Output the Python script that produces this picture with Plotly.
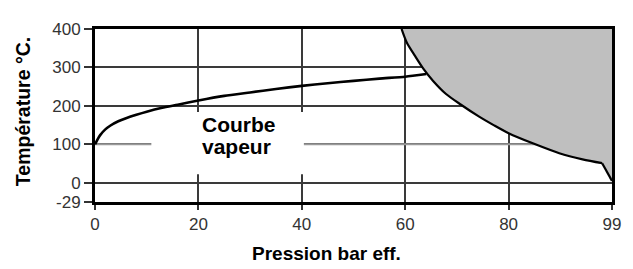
import plotly.graph_objects as go

# Steam (saturation) curve: pressure (bar g) -> temperature (°C)
steam_p = [0, 0.5, 1, 2, 3, 4.5, 6, 8, 10, 13, 16, 20, 25, 30, 35, 40, 45, 50, 55, 60, 64.1]
steam_t = [100, 113, 124, 139, 149, 160, 168, 177, 185, 195, 203, 214, 226, 235, 244, 252, 259, 265, 271, 276, 283]

# Limit curve of the grey (forbidden) zone
limit_p = [59.3, 60.3, 61.9, 63.5, 65.4, 67.9, 70.8, 74.3, 77.1, 80, 84.8, 89.8, 94.3, 98.1]
limit_t = [400, 365, 330, 297, 265, 231, 203, 172, 150, 129, 102, 77, 61, 51]
end_p = [98.1, 100]
end_t = [51, 5]

x_tickvals = [0, 20, 40, 60, 80, 100]
x_ticktext = ["0", "20", "40", "60", "80", "99"]
y_tickvals = [-50, 0, 100, 200, 300, 400]
y_ticktext = ["-29", "0", "100", "200", "300", "400"]

FONT = "Liberation Sans, Arial, sans-serif"

fig = go.Figure()

# grey zone fill
fig.add_trace(go.Scatter(
    x=limit_p + end_p[1:] + [100, limit_p[0]],
    y=limit_t + end_t[1:] + [400, 400],
    fill="toself", fillcolor="#bfbfbf", mode="none",
    hoverinfo="skip", showlegend=False,
))
# limit curve
fig.add_trace(go.Scatter(
    x=limit_p, y=limit_t, mode="lines",
    line=dict(color="black", width=2.2, shape="spline", smoothing=0.8), showlegend=False,
))
fig.add_trace(go.Scatter(
    x=end_p, y=end_t, mode="lines",
    line=dict(color="black", width=2.2), showlegend=False,
))
# steam curve
fig.add_trace(go.Scatter(
    x=steam_p, y=steam_t, mode="lines",
    line=dict(color="black", width=2.6, shape="spline", smoothing=0.6), showlegend=False,
))

# lighter 100 °C grid line and white box behind the label (between grid and traces)
fig.add_shape(type="line", xref="x", yref="y", x0=0, x1=100, y0=100, y1=100,
              line=dict(color="#999999", width=2), layer="between")
fig.add_shape(type="rect", xref="x", yref="y", x0=10.9, x1=40.4, y0=22, y1=184,
              fillcolor="white", line=dict(width=0), layer="between")

fig.add_annotation(x=20.3, y=151, xref="x", yref="y", text="<b>Courbe</b>",
                   showarrow=False, xanchor="left", yanchor="middle",
                   font=dict(family=FONT, size=21, color="black"))
fig.add_annotation(x=20.3, y=94, xref="x", yref="y", text="<b>vapeur</b>",
                   showarrow=False, xanchor="left", yanchor="middle",
                   font=dict(family=FONT, size=21, color="black"))

fig.add_annotation(x=-0.139, y=0.52, xref="paper", yref="paper",
                   text="<b>Température °C.</b>", textangle=-90, showarrow=False,
                   xanchor="center", yanchor="middle",
                   font=dict(family=FONT, size=19.5, color="black"))
fig.add_annotation(x=0.448, y=-0.298, xref="paper", yref="paper",
                   text="<b>Pression bar eff.</b>", showarrow=False,
                   xanchor="center", yanchor="middle",
                   font=dict(family=FONT, size=19, color="black"))

fig.update_xaxes(
    range=[0, 100], tickvals=x_tickvals, ticktext=x_ticktext,
    showgrid=True, gridcolor="#3a3a3a", gridwidth=1.6,
    showline=True, linecolor="black", linewidth=3, mirror=True,
    ticks="outside", ticklen=5, tickcolor="#333", tickwidth=1.5,
    tickfont=dict(family=FONT, size=17, color="#333"),
    zeroline=False, fixedrange=True,
)
fig.update_yaxes(
    range=[-50, 400], tickvals=y_tickvals, ticktext=y_ticktext,
    showgrid=True, gridcolor="#3a3a3a", gridwidth=1.6,
    showline=True, linecolor="black", linewidth=3, mirror=True,
    ticks="outside", ticklen=8, tickcolor="#333", tickwidth=1.5,
    tickfont=dict(family=FONT, size=17, color="#333"),
    zeroline=False, fixedrange=True,
)

# the page body has an 8px default margin: figure is 625x261 placed at (8, 8)
fig.update_layout(
    width=625, height=261,
    margin=dict(l=87, r=13, t=13, b=67),
    plot_bgcolor="white", paper_bgcolor="white",
    showlegend=False,
    font=dict(family=FONT),
)

fig.write_html("out.html", config={"displayModeBar": False})
